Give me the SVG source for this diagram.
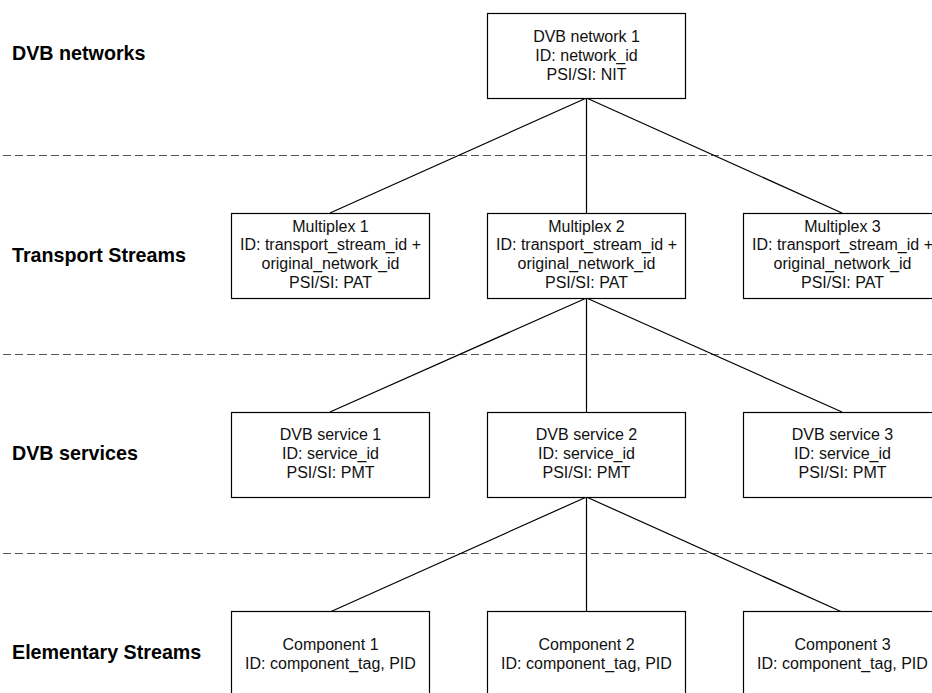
<svg xmlns="http://www.w3.org/2000/svg" width="932" height="693" viewBox="0 0 932 693">
<style>
.bg{fill:#fff}
.box{fill:#fff;stroke:#000;stroke-width:1.2}
.t{font-family:"Liberation Sans",Arial,sans-serif;font-size:16px;fill:#111;text-anchor:middle}
.lbl{font-family:"Liberation Sans",Arial,sans-serif;font-size:19.7px;font-weight:bold;fill:#000}
.dash{stroke:#555;stroke-width:1.2;stroke-dasharray:8 4;fill:none}
.c{stroke:#000;stroke-width:1.2;fill:none}
</style>
<rect class="bg" x="0" y="0" width="932" height="693"/>
<g id="separators">
<line class="dash" x1="3" y1="155.5" x2="932" y2="155.5"/>
<line class="dash" x1="3" y1="354.5" x2="932" y2="354.5"/>
<line class="dash" x1="3" y1="553.5" x2="932" y2="553.5"/>
</g>
<g id="labels">
<text class="lbl" x="12" y="60">DVB networks</text>
<text class="lbl" x="12" y="262">Transport Streams</text>
<text class="lbl" x="12" y="460">DVB services</text>
<text class="lbl" x="12" y="659">Elementary Streams</text>
</g>
<g id="connectors">
<line class="c" x1="586.5" y1="98" x2="330" y2="213"/>
<line class="c" x1="586.5" y1="98" x2="586.5" y2="213"/>
<line class="c" x1="586.5" y1="98" x2="842" y2="213"/>
<line class="c" x1="586.5" y1="298" x2="330" y2="412"/>
<line class="c" x1="586.5" y1="298" x2="586.5" y2="412"/>
<line class="c" x1="586.5" y1="298" x2="842" y2="412"/>
<line class="c" x1="586.5" y1="497" x2="330" y2="612"/>
<line class="c" x1="586.5" y1="497" x2="586.5" y2="612"/>
<line class="c" x1="586.5" y1="497" x2="842" y2="612"/>
</g>
<g id="network1">
<rect class="box" x="487.5" y="13.5" width="198" height="85"/>
<text class="t" x="586.5" y="41.5">DVB network 1</text>
<text class="t" x="586.5" y="60.5">ID: network_id</text>
<text class="t" x="586.5" y="79.5">PSI/SI: NIT</text>
</g>
<g id="mux1">
<rect class="box" x="231.5" y="213.5" width="198" height="85"/>
<text class="t" x="330.5" y="231.5">Multiplex 1</text>
<text class="t" x="330.5" y="250.2">ID: transport_stream_id +</text>
<text class="t" x="330.5" y="268.9">original_network_id</text>
<text class="t" x="330.5" y="287.6">PSI/SI: PAT</text>
</g>
<g id="mux2">
<rect class="box" x="487.5" y="213.5" width="198" height="85"/>
<text class="t" x="586.5" y="231.5">Multiplex 2</text>
<text class="t" x="586.5" y="250.2">ID: transport_stream_id +</text>
<text class="t" x="586.5" y="268.9">original_network_id</text>
<text class="t" x="586.5" y="287.6">PSI/SI: PAT</text>
</g>
<g id="mux3">
<rect class="box" x="743.5" y="213.5" width="198" height="85"/>
<text class="t" x="842.5" y="231.5">Multiplex 3</text>
<text class="t" x="842.5" y="250.2">ID: transport_stream_id +</text>
<text class="t" x="842.5" y="268.9">original_network_id</text>
<text class="t" x="842.5" y="287.6">PSI/SI: PAT</text>
</g>
<g id="svc1">
<rect class="box" x="231.5" y="412.5" width="198" height="85"/>
<text class="t" x="330.5" y="440">DVB service 1</text>
<text class="t" x="330.5" y="459">ID: service_id</text>
<text class="t" x="330.5" y="478">PSI/SI: PMT</text>
</g>
<g id="svc2">
<rect class="box" x="487.5" y="412.5" width="198" height="85"/>
<text class="t" x="586.5" y="440">DVB service 2</text>
<text class="t" x="586.5" y="459">ID: service_id</text>
<text class="t" x="586.5" y="478">PSI/SI: PMT</text>
</g>
<g id="svc3">
<rect class="box" x="743.5" y="412.5" width="198" height="85"/>
<text class="t" x="842.5" y="440">DVB service 3</text>
<text class="t" x="842.5" y="459">ID: service_id</text>
<text class="t" x="842.5" y="478">PSI/SI: PMT</text>
</g>
<g id="comp1">
<rect class="box" x="231.5" y="611.5" width="198" height="85"/>
<text class="t" x="330.5" y="649.5">Component 1</text>
<text class="t" x="330.5" y="668.5">ID: component_tag, PID</text>
</g>
<g id="comp2">
<rect class="box" x="487.5" y="611.5" width="198" height="85"/>
<text class="t" x="586.5" y="649.5">Component 2</text>
<text class="t" x="586.5" y="668.5">ID: component_tag, PID</text>
</g>
<g id="comp3">
<rect class="box" x="743.5" y="611.5" width="198" height="85"/>
<text class="t" x="842.5" y="649.5">Component 3</text>
<text class="t" x="842.5" y="668.5">ID: component_tag, PID</text>
</g>
</svg>
